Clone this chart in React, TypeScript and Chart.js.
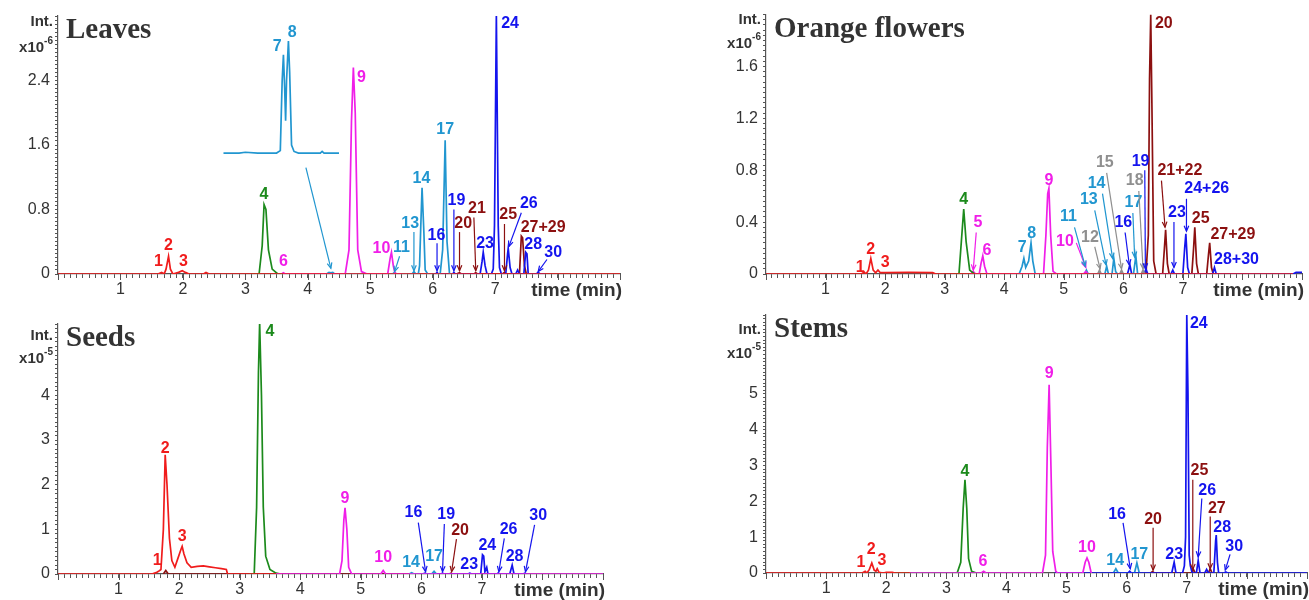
import React, { useEffect, useRef } from 'react';
import { Chart, registerables } from 'chart.js';

Chart.register(...registerables);

const RED = '#f01c1c';
const GREEN = '#1c8a1c';
const MAG = '#f01ee8';
const CYAN = '#2196d0';
const BLUE = '#1414ee';
const DRED = '#8c1010';
const GRAY = '#8f8f8f';

type P = [number, number];
type Lab = { t: string; x: number; y: number; c: string; a?: number[] };

// ---------------- Leaves ----------------
const leavesRed: P[] = [[0, 0], [1.6, 0], [1.66, 0.02], [1.7, 0], [1.73, 0.06], [1.77, 0.22], [1.8, 0.06], [1.84, 0], [1.93, 0.02], [1.99, 0.04], [2.04, 0.02], [2.1, 0], [2.33, 0], [2.37, 0.02], [2.42, 0], [9, 0]];
const leavesGreen: P[] = [[3.1, 0], [3.22, 0], [3.27, 0.35], [3.3, 0.86], [3.33, 0.8], [3.37, 0.3], [3.43, 0.06], [3.52, 0], [3.6, 0]];
const leavesMagenta: P[] = [[3.5, 0], [3.58, 0], [3.61, 0.015], [3.64, 0], [4.6, 0], [4.66, 0.3], [4.7, 1.9], [4.73, 2.56], [4.76, 2.0], [4.8, 0.3], [4.86, 0.03], [4.95, 0], [5.28, 0], [5.32, 0.2], [5.34, 0.27], [5.37, 0.1], [5.4, 0], [5.5, 0]];
const leavesCyan: P[] = [[4.3, 0], [4.34, 0.02], [4.37, 0.015], [4.4, 0.02], [4.43, 0], [5.36, 0], [5.39, 0.02], [5.42, 0], [5.67, 0], [5.7, 0.03], [5.73, 0], [5.77, 0], [5.79, 0.1], [5.81, 0.6], [5.83, 1.07], [5.86, 0.5], [5.88, 0.05], [5.92, 0], [6.12, 0], [6.16, 0.3], [6.2, 1.66], [6.23, 0.4], [6.27, 0], [6.35, 0]];
const leavesInset: P[] = [[2.65, 1.5], [2.9, 1.5], [3.0, 1.51], [3.2, 1.5], [3.5, 1.5], [3.56, 1.53], [3.59, 2.4], [3.61, 2.72], [3.63, 2.3], [3.645, 1.9], [3.66, 2.4], [3.69, 2.89], [3.71, 2.5], [3.74, 1.6], [3.78, 1.52], [3.85, 1.5], [4.2, 1.5], [4.23, 1.52], [4.26, 1.5], [4.5, 1.5]];
const leavesBlue: P[] = [[6.0, 0], [6.05, 0], [6.07, 0.02], [6.09, 0], [6.32, 0], [6.34, 0.02], [6.36, 0], [6.76, 0], [6.79, 0.15], [6.81, 0.27], [6.84, 0.1], [6.87, 0], [6.94, 0], [6.97, 0.06], [6.99, 0.6], [7.02, 3.22], [7.05, 0.6], [7.07, 0.08], [7.1, 0], [7.17, 0], [7.2, 0.25], [7.21, 0.32], [7.24, 0.08], [7.27, 0], [7.33, 0], [7.36, 0.05], [7.39, 0], [7.46, 0], [7.49, 0.27], [7.51, 0.25], [7.53, 0], [7.66, 0], [7.69, 0.02], [7.72, 0], [7.8, 0]];
const leavesDarkRed: P[] = [[6.38, 0], [6.43, 0.015], [6.46, 0], [6.66, 0], [6.69, 0.015], [6.72, 0], [7.12, 0], [7.15, 0.02], [7.18, 0], [7.39, 0], [7.42, 0.47], [7.44, 0.45], [7.47, 0.1], [7.5, 0]];
const leavesYTicks = [0, 0.8, 1.6, 2.4];
const leavesLabels: Lab[] = [
  { t: '1', x: 1.61, y: 0.15, c: RED },
  { t: '2', x: 1.77, y: 0.35, c: RED },
  { t: '3', x: 2.01, y: 0.16, c: RED },
  { t: '4', x: 3.3, y: 0.98, c: GREEN },
  { t: '6', x: 3.61, y: 0.15, c: MAG },
  { t: '7', x: 3.51, y: 2.82, c: CYAN },
  { t: '8', x: 3.75, y: 3.0, c: CYAN },
  { t: '9', x: 4.86, y: 2.44, c: MAG },
  { t: '10', x: 5.18, y: 0.32, c: MAG },
  { t: '11', x: 5.5, y: 0.33, c: CYAN, a: [5.47, 0.22, 5.39, 0.03] },
  { t: '13', x: 5.64, y: 0.63, c: CYAN, a: [5.7, 0.52, 5.7, 0.04] },
  { t: '14', x: 5.82, y: 1.18, c: CYAN },
  { t: '16', x: 6.06, y: 0.48, c: BLUE, a: [6.07, 0.38, 6.07, 0.04] },
  { t: '17', x: 6.2, y: 1.79, c: CYAN },
  { t: '19', x: 6.38, y: 0.91, c: BLUE, a: [6.34, 0.8, 6.34, 0.04] },
  { t: '20', x: 6.49, y: 0.63, c: DRED, a: [6.43, 0.52, 6.43, 0.04] },
  { t: '21', x: 6.71, y: 0.81, c: DRED, a: [6.66, 0.7, 6.69, 0.04] },
  { t: '23', x: 6.84, y: 0.38, c: BLUE },
  { t: '24', x: 7.24, y: 3.11, c: BLUE },
  { t: '25', x: 7.21, y: 0.74, c: DRED, a: [7.15, 0.62, 7.15, 0.04] },
  { t: '26', x: 7.54, y: 0.87, c: BLUE, a: [7.42, 0.76, 7.22, 0.34] },
  { t: '27+29', x: 7.77, y: 0.57, c: DRED },
  { t: '28', x: 7.61, y: 0.36, c: BLUE },
  { t: '30', x: 7.93, y: 0.27, c: BLUE, a: [7.83, 0.18, 7.69, 0.03] },
  { t: '', x: 3.97, y: 1.32, c: CYAN, a: [3.97, 1.32, 4.37, 0.07] },
];

// ---------------- Orange flowers ----------------
const orangeRed: P[] = [[0, 0], [1.6, 0], [1.65, 0.015], [1.68, 0], [1.72, 0.03], [1.76, 0.12], [1.8, 0.03], [1.84, 0.01], [1.88, 0.03], [1.92, 0.01], [2.0, 0.01], [2.4, 0.012], [2.8, 0.01], [2.85, 0], [8.85, 0]];
const orangeGreen: P[] = [[3.15, 0], [3.24, 0], [3.28, 0.25], [3.32, 0.5], [3.36, 0.25], [3.42, 0.03], [3.5, 0]];
const orangeMagenta: P[] = [[3.44, 0], [3.48, 0.02], [3.52, 0], [3.58, 0], [3.61, 0.08], [3.64, 0.14], [3.67, 0.06], [3.71, 0], [4.66, 0], [4.7, 0.3], [4.73, 0.62], [4.75, 0.66], [4.78, 0.3], [4.82, 0.02], [4.88, 0], [5.33, 0], [5.37, 0.02], [5.41, 0]];
const orangeCyan: P[] = [[4.25, 0], [4.3, 0.06], [4.33, 0.12], [4.36, 0.05], [4.41, 0.1], [4.45, 0.24], [4.48, 0.1], [4.52, 0], [5.35, 0], [5.38, 0.03], [5.41, 0], [5.69, 0], [5.72, 0.06], [5.75, 0], [5.81, 0], [5.84, 0.12], [5.87, 0.02], [5.9, 0], [6.17, 0], [6.21, 0.14], [6.24, 0], [6.3, 0]];
const orangeGray: P[] = [[5.57, 0], [5.6, 0.03], [5.63, 0], [5.94, 0], [5.97, 0.03], [6.0, 0], [6.3, 0], [6.33, 0.03], [6.36, 0]];
const orangeBlue: P[] = [[6.07, 0], [6.11, 0.07], [6.14, 0], [6.35, 0], [6.38, 0.04], [6.41, 0], [6.8, 0], [6.83, 0.03], [6.86, 0], [7.0, 0], [7.03, 0.2], [7.05, 0.31], [7.08, 0.05], [7.11, 0], [7.5, 0], [7.53, 0.05], [7.56, 0], [8.85, 0], [8.9, 0.012], [9, 0.012]];
const orangeDarkRed: P[] = [[6.38, 0], [6.42, 0.3], [6.44, 1.5], [6.46, 2.0], [6.48, 1.3], [6.51, 0.1], [6.55, 0], [6.66, 0], [6.69, 0.2], [6.71, 0.34], [6.74, 0.08], [6.77, 0], [7.15, 0], [7.18, 0.2], [7.2, 0.36], [7.23, 0.08], [7.26, 0], [7.4, 0], [7.43, 0.15], [7.45, 0.24], [7.48, 0.05], [7.51, 0]];
const orangeYTicks = [0, 0.4, 0.8, 1.2, 1.6];
const orangeLabels: Lab[] = [
  { t: '1', x: 1.58, y: 0.05, c: RED },
  { t: '2', x: 1.76, y: 0.19, c: RED },
  { t: '3', x: 2.0, y: 0.09, c: RED },
  { t: '4', x: 3.32, y: 0.57, c: GREEN },
  { t: '5', x: 3.56, y: 0.4, c: MAG, a: [3.53, 0.32, 3.48, 0.03] },
  { t: '6', x: 3.71, y: 0.18, c: MAG },
  { t: '7', x: 4.3, y: 0.2, c: CYAN },
  { t: '8', x: 4.46, y: 0.31, c: CYAN },
  { t: '9', x: 4.75, y: 0.72, c: MAG },
  { t: '10', x: 5.02, y: 0.25, c: MAG, a: [5.21, 0.24, 5.37, 0.05] },
  { t: '11', x: 5.08, y: 0.44, c: CYAN, a: [5.18, 0.36, 5.36, 0.06] },
  { t: '12', x: 5.44, y: 0.28, c: GRAY, a: [5.52, 0.21, 5.61, 0.04] },
  { t: '13', x: 5.42, y: 0.57, c: CYAN, a: [5.52, 0.49, 5.71, 0.07] },
  { t: '14', x: 5.55, y: 0.7, c: CYAN, a: [5.65, 0.62, 5.82, 0.12] },
  { t: '15', x: 5.69, y: 0.86, c: GRAY, a: [5.72, 0.78, 5.97, 0.04] },
  { t: '16', x: 6.0, y: 0.4, c: BLUE, a: [6.03, 0.32, 6.1, 0.07] },
  { t: '17', x: 6.17, y: 0.55, c: CYAN, a: [6.16, 0.47, 6.19, 0.13] },
  { t: '18', x: 6.19, y: 0.72, c: GRAY, a: [6.26, 0.64, 6.33, 0.04] },
  { t: '19', x: 6.29, y: 0.87, c: BLUE, a: [6.36, 0.8, 6.37, 0.04] },
  { t: '20', x: 6.68, y: 1.93, c: DRED },
  { t: '21+22', x: 6.95, y: 0.8, c: DRED, a: [6.64, 0.72, 6.7, 0.36] },
  { t: '23', x: 6.9, y: 0.47, c: BLUE, a: [6.85, 0.4, 6.85, 0.05] },
  { t: '24+26', x: 7.4, y: 0.66, c: BLUE, a: [7.06, 0.58, 7.06, 0.33] },
  { t: '25', x: 7.3, y: 0.43, c: DRED },
  { t: '27+29', x: 7.84, y: 0.3, c: DRED },
  { t: '28+30', x: 7.9, y: 0.11, c: BLUE },
];

// ---------------- Seeds ----------------
const seedsRed: P[] = [[0, 0], [1.55, 0], [1.62, 0.03], [1.66, 0.06], [1.7, 0.1], [1.74, 1.0], [1.77, 2.67], [1.8, 2.0], [1.84, 0.8], [1.88, 0.3], [1.93, 0.15], [1.98, 0.35], [2.03, 0.55], [2.05, 0.62], [2.08, 0.45], [2.13, 0.25], [2.2, 0.15], [2.3, 0.17], [2.4, 0.18], [2.5, 0.16], [2.6, 0.14], [2.7, 0.12], [2.78, 0.1], [2.8, 0], [3.7, 0]];
const seedsGreen: P[] = [[3.15, 0], [3.24, 0], [3.28, 1.5], [3.31, 4.5], [3.33, 5.63], [3.36, 4.0], [3.39, 1.5], [3.43, 0.4], [3.5, 0.1], [3.6, 0.02], [3.68, 0]];
const seedsMagenta: P[] = [[3.6, 0], [4.65, 0], [4.69, 0.3], [4.72, 1.2], [4.74, 1.48], [4.77, 1.0], [4.8, 0.15], [4.85, 0], [5.33, 0], [5.37, 0.08], [5.41, 0], [9, 0]];
const seedsCyan: P[] = [[5.8, 0], [5.84, 0.03], [5.88, 0], [6.17, 0], [6.21, 0.06], [6.25, 0]];
const seedsBlue: P[] = [[6.02, 0], [6.06, 0.02], [6.1, 0], [6.32, 0], [6.35, 0.02], [6.38, 0], [6.77, 0], [6.8, 0.02], [6.83, 0], [6.98, 0], [7.01, 0.43], [7.03, 0.4], [7.05, 0.05], [7.08, 0.15], [7.1, 0], [7.25, 0], [7.27, 0.02], [7.3, 0], [7.46, 0], [7.5, 0.2], [7.53, 0], [7.68, 0], [7.71, 0.02], [7.74, 0]];
const seedsDarkRed: P[] = [[1.74, 0], [1.78, 0.08], [1.82, 0], [6.46, 0], [6.49, 0.02], [6.52, 0]];
const seedsYTicks = [0, 1, 2, 3, 4];
const seedsLabels: Lab[] = [
  { t: '1', x: 1.64, y: 0.31, c: RED },
  { t: '2', x: 1.77, y: 2.81, c: RED },
  { t: '3', x: 2.05, y: 0.83, c: RED },
  { t: '4', x: 3.5, y: 5.42, c: GREEN },
  { t: '9', x: 4.74, y: 1.69, c: MAG },
  { t: '10', x: 5.37, y: 0.36, c: MAG },
  { t: '14', x: 5.83, y: 0.25, c: CYAN },
  { t: '16', x: 5.87, y: 1.37, c: BLUE, a: [5.95, 1.15, 6.07, 0.05] },
  { t: '17', x: 6.21, y: 0.38, c: CYAN },
  { t: '19', x: 6.41, y: 1.33, c: BLUE, a: [6.38, 1.12, 6.35, 0.05] },
  { t: '20', x: 6.64, y: 0.97, c: DRED, a: [6.58, 0.78, 6.5, 0.05] },
  { t: '23', x: 6.79, y: 0.22, c: BLUE },
  { t: '24', x: 7.09, y: 0.63, c: BLUE },
  { t: '26', x: 7.44, y: 1.0, c: BLUE, a: [7.37, 0.8, 7.28, 0.05] },
  { t: '28', x: 7.54, y: 0.38, c: BLUE },
  { t: '30', x: 7.93, y: 1.3, c: BLUE, a: [7.87, 1.1, 7.72, 0.05] },
];

// ---------------- Stems ----------------
const stemsRed: P[] = [[0, 0], [1.6, 0], [1.65, 0.05], [1.68, 0], [1.72, 0.1], [1.76, 0.28], [1.8, 0.08], [1.83, 0.05], [1.85, 0.12], [1.88, 0.02], [1.95, 0], [2.0, 0.02], [2.1, 0.02], [2.15, 0], [2.4, 0]];
const stemsGreen: P[] = [[2.0, 0], [3.18, 0], [3.24, 0.3], [3.28, 1.8], [3.31, 2.6], [3.34, 1.8], [3.37, 0.4], [3.42, 0.05], [3.5, 0]];
const stemsMagenta: P[] = [[2.38, 0], [3.58, 0], [3.62, 0.05], [3.66, 0], [4.6, 0], [4.65, 0.5], [4.68, 3.5], [4.71, 5.25], [4.74, 3.0], [4.77, 0.6], [4.82, 0.05], [4.85, 0], [5.27, 0], [5.31, 0.3], [5.34, 0.42], [5.37, 0.3], [5.41, 0]];
const stemsCyan: P[] = [[5.78, 0], [5.82, 0.12], [5.86, 0], [6.13, 0], [6.17, 0.28], [6.21, 0]];
const stemsBlue: P[] = [[4.8, 0], [6.02, 0], [6.05, 0.05], [6.08, 0], [6.75, 0], [6.79, 0.3], [6.82, 0], [6.93, 0], [6.96, 0.2], [6.98, 1.0], [7.0, 7.2], [7.02, 5.0], [7.04, 0.5], [7.06, 0.2], [7.09, 0], [7.16, 0], [7.19, 0.35], [7.22, 0], [7.3, 0], [7.33, 0.1], [7.36, 0], [7.45, 0], [7.48, 0.9], [7.49, 1.06], [7.51, 0.3], [7.53, 0], [7.62, 0], [7.65, 0.03], [7.68, 0], [9, 0]];
const stemsDarkRed: P[] = [[6.4, 0], [6.43, 0.04], [6.46, 0], [7.08, 0], [7.11, 0.1], [7.14, 0], [7.36, 0], [7.39, 0.12], [7.42, 0]];
const stemsYTicks = [0, 1, 2, 3, 4, 5];
const stemsLabels: Lab[] = [
  { t: '1', x: 1.58, y: 0.28, c: RED },
  { t: '2', x: 1.75, y: 0.64, c: RED },
  { t: '3', x: 1.93, y: 0.36, c: RED },
  { t: '4', x: 3.31, y: 2.82, c: GREEN },
  { t: '6', x: 3.61, y: 0.31, c: MAG },
  { t: '9', x: 4.71, y: 5.56, c: MAG },
  { t: '10', x: 5.34, y: 0.7, c: MAG },
  { t: '14', x: 5.81, y: 0.36, c: CYAN },
  { t: '16', x: 5.84, y: 1.62, c: BLUE, a: [5.94, 1.4, 6.06, 0.12] },
  { t: '17', x: 6.21, y: 0.5, c: CYAN },
  { t: '20', x: 6.44, y: 1.48, c: DRED, a: [6.44, 1.26, 6.44, 0.08] },
  { t: '23', x: 6.79, y: 0.5, c: BLUE },
  { t: '24', x: 7.2, y: 6.96, c: BLUE },
  { t: '25', x: 7.21, y: 2.85, c: DRED, a: [7.1, 2.6, 7.1, 0.1] },
  { t: '26', x: 7.34, y: 2.29, c: BLUE, a: [7.25, 2.08, 7.19, 0.45] },
  { t: '27', x: 7.5, y: 1.79, c: DRED, a: [7.39, 1.58, 7.39, 0.12] },
  { t: '28', x: 7.59, y: 1.26, c: BLUE },
  { t: '30', x: 7.79, y: 0.73, c: BLUE, a: [7.72, 0.52, 7.64, 0.08] },
];

const xLabelTimes = [1, 2, 3, 4, 5, 6, 7];
const xMajorTimes = [0, 1, 2, 3, 4, 5, 6, 7, 8, 9];

type Panel = {
  title: string;
  exp: string;
  yMax: number;
  yStep: number;
  yLabels: number[];
  series: [P[], string][];
  labels: Lab[];
  box: { left: number; top: number; w: number; h: number };
  pad: { l: number; r: number; t: number; b: number };
  intDy: number;
  expDy: number;
};

const panels: Panel[] = [
  {
    title: 'Leaves', exp: '-6', yMax: 3.2, yStep: 0.05, yLabels: leavesYTicks,
    series: [[leavesRed, RED], [leavesGreen, GREEN], [leavesMagenta, MAG], [leavesCyan, CYAN], [leavesInset, CYAN], [leavesBlue, BLUE], [leavesDarkRed, DRED]],
    labels: leavesLabels,
    box: { left: 0, top: 0, w: 640, h: 300 }, pad: { l: 18, r: 20, t: 16, b: 4 }, intDy: 10, expDy: 36,
  },
  {
    title: 'Orange flowers', exp: '-6', yMax: 2.0, yStep: 0.04, yLabels: orangeYTicks,
    series: [[orangeRed, RED], [orangeGreen, GREEN], [orangeMagenta, MAG], [orangeCyan, CYAN], [orangeGray, GRAY], [orangeBlue, BLUE], [orangeDarkRed, DRED]],
    labels: orangeLabels,
    box: { left: 650, top: 0, w: 659, h: 300 }, pad: { l: 76, r: 7, t: 13, b: 4 }, intDy: 9, expDy: 33,
  },
  {
    title: 'Seeds', exp: '-5', yMax: 5.6, yStep: 0.1, yLabels: seedsYTicks,
    series: [[seedsMagenta, MAG], [seedsRed, RED], [seedsGreen, GREEN], [seedsCyan, CYAN], [seedsBlue, BLUE], [seedsDarkRed, DRED]],
    labels: seedsLabels,
    box: { left: 0, top: 300, w: 640, h: 300 }, pad: { l: 18, r: 37, t: 24, b: 4 }, intDy: 16, expDy: 39,
  },
  {
    title: 'Stems', exp: '-5', yMax: 7.2, yStep: 0.1, yLabels: stemsYTicks,
    series: [[stemsRed, RED], [stemsMagenta, MAG], [stemsBlue, BLUE], [stemsGreen, GREEN], [stemsCyan, CYAN], [stemsDarkRed, DRED]],
    labels: stemsLabels,
    box: { left: 650, top: 300, w: 659, h: 300 }, pad: { l: 76, r: 2, t: 15, b: 5 }, intDy: 19, expDy: 43,
  },
];

const SANS = '"Liberation Sans", Arial, sans-serif';
const SERIF = '"Liberation Serif", "Times New Roman", serif';

function drawArrow(ctx: CanvasRenderingContext2D, x1: number, y1: number, x2: number, y2: number, color: string) {
  ctx.strokeStyle = color;
  ctx.lineWidth = 1.2;
  ctx.beginPath();
  ctx.moveTo(x1, y1);
  ctx.lineTo(x2, y2);
  ctx.stroke();
  const ang = Math.atan2(y2 - y1, x2 - x1);
  const L = 6;
  ctx.beginPath();
  ctx.moveTo(x2 - L * Math.cos(ang - 0.4), y2 - L * Math.sin(ang - 0.4));
  ctx.lineTo(x2, y2);
  ctx.lineTo(x2 - L * Math.cos(ang + 0.4), y2 - L * Math.sin(ang + 0.4));
  ctx.stroke();
}

function makeDecor(p: Panel) {
  return {
    id: 'decor',
    afterDatasetsDraw(chart: any) {
      const { ctx, chartArea: ca, scales } = chart;
      const xs = scales.x, ys = scales.y;
      ctx.save();
      // longer major ticks on the time axis
      ctx.strokeStyle = '#555';
      ctx.lineWidth = 1;
      for (const t of xMajorTimes) {
        const px = Math.round(xs.getPixelForValue(t)) + 0.5;
        ctx.beginPath();
        ctx.moveTo(px, ca.bottom);
        ctx.lineTo(px, ca.bottom + 6);
        ctx.stroke();
      }
      ctx.textAlign = 'center';
      ctx.textBaseline = 'middle';
      ctx.font = `bold 16px ${SANS}`;
      for (const l of p.labels) {
        if (l.t) {
          ctx.fillStyle = l.c;
          ctx.fillText(l.t, xs.getPixelForValue(l.x), ys.getPixelForValue(l.y));
        }
        if (l.a) {
          drawArrow(ctx, xs.getPixelForValue(l.a[0]), ys.getPixelForValue(l.a[1]), xs.getPixelForValue(l.a[2]), ys.getPixelForValue(l.a[3]), l.c);
        }
      }
      ctx.textBaseline = 'alphabetic';
      ctx.textAlign = 'left';
      ctx.fillStyle = '#333';
      ctx.font = `bold 29px ${SERIF}`;
      ctx.fillText(p.title, ca.left + 8, ca.top + 22);

      ctx.textAlign = 'right';
      ctx.font = `bold 15px ${SANS}`;
      ctx.fillText('Int.', ca.left - 5, ca.top + p.intDy);
      ctx.font = `bold 10px ${SANS}`;
      const ew = ctx.measureText(p.exp).width;
      ctx.fillText(p.exp, ca.left - 5, ca.top + p.expDy - 8);
      ctx.font = `bold 15px ${SANS}`;
      ctx.fillText('x10', ca.left - 5 - ew, ca.top + p.expDy);

      ctx.font = `bold 19px ${SANS}`;
      ctx.fillText('time (min)', ca.right + 2, ca.bottom + 22);
      ctx.restore();
    },
  };
}

function fmt(v: number) {
  return String(Math.round(v * 10) / 10);
}

function PanelChart({ p }: { p: Panel }) {
  const ref = useRef<HTMLCanvasElement | null>(null);
  useEffect(() => {
    if (!ref.current) return;
    const chart = new Chart(ref.current, {
      type: 'line',
      data: {
        datasets: p.series.map(([pts, color]) => ({
          data: pts.map(([x, y]) => ({ x, y })),
          borderColor: color,
          backgroundColor: color,
          borderWidth: 1.7,
          pointRadius: 0,
          tension: 0,
          fill: false,
        })),
      },
      options: {
        animation: false,
        responsive: false,
        maintainAspectRatio: false,
        events: [],
        layout: { padding: { left: p.pad.l, right: p.pad.r, top: p.pad.t, bottom: p.pad.b } },
        plugins: { legend: { display: false }, tooltip: { enabled: false } },
        scales: {
          x: {
            type: 'linear', min: 0, max: 9,
            afterFit: (s: any) => { s.height = 22; },
            border: { display: true, color: '#555', width: 1.2 },
            grid: { display: true, drawOnChartArea: false, drawTicks: true, tickLength: 4, color: '#555', tickColor: '#555' },
            ticks: {
              stepSize: 0.1, autoSkip: false, maxRotation: 0, minRotation: 0, padding: 2, color: '#333',
              font: { family: SANS, size: 16 },
              callback: (v: any) => {
                const r = Math.round(Number(v) * 10) / 10;
                return xLabelTimes.includes(r) ? String(r) : '';
              },
            },
          },
          y: {
            type: 'linear', min: 0, max: p.yMax,
            afterFit: (s: any) => { s.width = 40; },
            border: { display: true, color: '#555', width: 1.2 },
            grid: { display: true, drawOnChartArea: false, drawTicks: true, tickLength: 3, color: '#555', tickColor: '#555' },
            ticks: {
              stepSize: p.yStep, autoSkip: false, padding: 5, color: '#333',
              font: { family: SANS, size: 16 },
              callback: (v: any) => (p.yLabels.some((t) => Math.abs(t - Number(v)) < 1e-6) ? fmt(Number(v)) : ''),
            },
          },
        },
      },
      plugins: [makeDecor(p)],
    } as any);
    return () => chart.destroy();
  }, [p]);
  return (
    <canvas
      ref={ref}
      width={p.box.w}
      height={p.box.h}
      style={{ position: 'absolute', left: p.box.left, top: p.box.top, width: p.box.w, height: p.box.h }}
    />
  );
}

export default function App() {
  return (
    <div style={{ position: 'fixed', left: 0, top: 0, width: 1309, height: 600, background: '#fff', overflow: 'hidden' }}>
      {panels.map((p) => (
        <PanelChart key={p.title} p={p} />
      ))}
    </div>
  );
}
